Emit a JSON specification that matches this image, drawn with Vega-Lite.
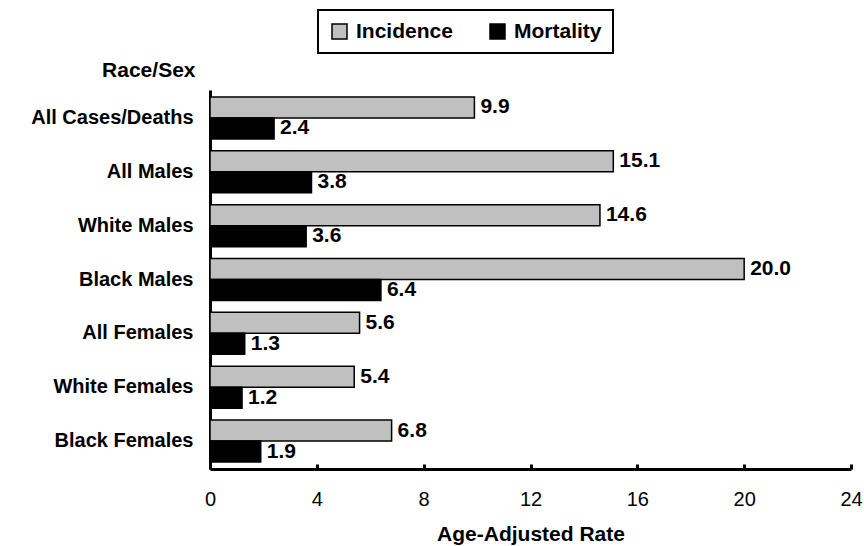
{
  "$schema": "https://vega.github.io/schema/vega-lite/v6.json",
  "width": 641,
  "height": 379,
  "autosize": "none",
  "padding": {"left": 210, "top": 90, "right": 13, "bottom": 77},
  "background": "white",
  "config": {"view": {"stroke": null}, "font": "Liberation Sans"},
  "data": {"values": [
    {"group": "All Cases/Deaths", "measure": "Incidence", "rate": 9.9},
    {"group": "All Cases/Deaths", "measure": "Mortality", "rate": 2.4},
    {"group": "All Males", "measure": "Incidence", "rate": 15.1},
    {"group": "All Males", "measure": "Mortality", "rate": 3.8},
    {"group": "White Males", "measure": "Incidence", "rate": 14.6},
    {"group": "White Males", "measure": "Mortality", "rate": 3.6},
    {"group": "Black Males", "measure": "Incidence", "rate": 20.0},
    {"group": "Black Males", "measure": "Mortality", "rate": 6.4},
    {"group": "All Females", "measure": "Incidence", "rate": 5.6},
    {"group": "All Females", "measure": "Mortality", "rate": 1.3},
    {"group": "White Females", "measure": "Incidence", "rate": 5.4},
    {"group": "White Females", "measure": "Mortality", "rate": 1.2},
    {"group": "Black Females", "measure": "Incidence", "rate": 6.8},
    {"group": "Black Females", "measure": "Mortality", "rate": 1.9}
  ]},
  "encoding": {
    "y": {
      "field": "group", "type": "nominal", "sort": null,
      "scale": {"paddingInner": 0.22, "paddingOuter": 0.13},
      "axis": {
        "title": "Race/Sex", "titleAngle": 0, "titleAlign": "right", "titleX": -15, "titleY": -14,
        "titleBaseline": "alphabetic", "titleFontSize": 21, "titleFontWeight": "bold", "titleColor": "black",
        "labelFontSize": 20, "labelFontWeight": "bold", "labelColor": "black", "labelPadding": 17,
        "ticks": false, "domainColor": "black", "domainWidth": 3
      }
    },
    "yOffset": {"field": "measure", "type": "nominal", "sort": ["Incidence", "Mortality"], "scale": {"paddingInner": 0, "paddingOuter": 0}},
    "x": {
      "field": "rate", "type": "quantitative",
      "scale": {"domain": [0, 24], "nice": false},
      "axis": {
        "title": "Age-Adjusted Rate", "titleFontSize": 21, "titleFontWeight": "bold", "titleColor": "black", "titlePadding": 14,
        "values": [0, 4, 8, 12, 16, 20, 24], "labelFontSize": 20, "labelFontWeight": "normal", "labelColor": "black",
        "labelPadding": 25, "tickSize": -5, "tickWidth": 3, "tickColor": "black", "grid": false,
        "domainColor": "black", "domainWidth": 3, "labelFlush": false
      }
    }
  },
  "layer": [
    {
      "mark": {"type": "bar", "stroke": "black", "strokeWidth": 1.5},
      "encoding": {
        "color": {
          "field": "measure", "type": "nominal",
          "scale": {"domain": ["Incidence", "Mortality"], "range": ["#c0c0c0", "#000000"]},
          "legend": {
            "orient": "none", "legendX": 108, "legendY": -80, "direction": "horizontal", "title": null,
            "strokeColor": "black", "padding": 11, "symbolType": "square", "symbolSize": 225,
            "symbolStrokeColor": "black", "symbolStrokeWidth": 1.5, "labelFontSize": 21, "labelFontWeight": "bold",
            "labelColor": "black", "columnPadding": 34, "labelOffset": 6,
            "encode": {"legend": {"update": {"strokeWidth": {"value": 2}}}}
          }
        }
      }
    },
    {
      "mark": {"type": "text", "align": "left", "baseline": "middle", "dx": 6, "fontSize": 21, "fontWeight": "bold", "color": "black"},
      "encoding": {"text": {"field": "rate", "type": "quantitative", "format": ".1f"}}
    }
  ]
}
